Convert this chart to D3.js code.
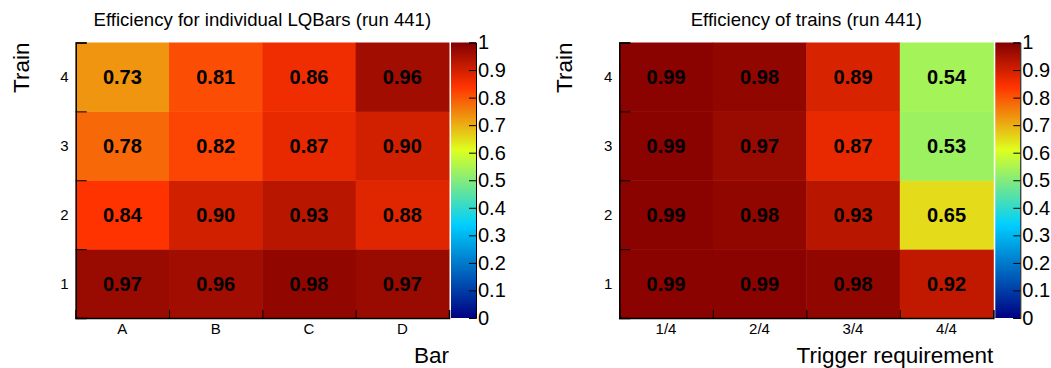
<!DOCTYPE html>
<html>
<head>
<meta charset="utf-8">
<script src="https://cdn.jsdelivr.net/npm/d3@7"></script>
<style>
  body { margin: 0; background: #fff; }
  text { font-family: "Liberation Sans", Arial, sans-serif; fill: #000; }
</style>
</head>
<body>
<div id="chart"></div>
<script>
const width = 1051;
const height = 368;

// data
const trains = ["1", "2", "3", "4"];
const bars = ["A", "B", "C", "D"];
const triggers = ["1/4", "2/4", "3/4", "4/4"];

// rows are train 1..4, columns follow the x categories
const barEff = [
  [0.97, 0.96, 0.98, 0.97],
  [0.84, 0.90, 0.93, 0.88],
  [0.78, 0.82, 0.87, 0.90],
  [0.73, 0.81, 0.86, 0.96]
];
const trainEff = [
  [0.99, 0.99, 0.98, 0.92],
  [0.99, 0.98, 0.93, 0.65],
  [0.99, 0.97, 0.87, 0.53],
  [0.99, 0.98, 0.89, 0.54]
];
const zTicks = [0, 0.1, 0.2, 0.3, 0.4, 0.5, 0.6, 0.7, 0.8, 0.9, 1];

// ROOT rainbow palette
const paletteStops = [0, 0.34, 0.61, 0.84, 1];
const paletteColors = ["rgb(0,0,130)", "rgb(0,207,255)", "rgb(222,255,31)", "rgb(255,51,0)", "rgb(130,0,0)"];
const color = d3.scaleLinear().domain(paletteStops).range(paletteColors).clamp(true);

const svg = d3.select("#chart")
  .append("svg")
  .attr("width", width)
  .attr("height", height);

const defs = svg.append("defs");
const grad = defs.append("linearGradient")
  .attr("id", "pal")
  .attr("x1", 0).attr("y1", 1).attr("x2", 0).attr("y2", 0);
grad.selectAll("stop")
  .data(paletteStops)
  .enter()
  .append("stop")
  .attr("offset", d => d)
  .attr("stop-color", d => color(d));

function drawPanel(opts) {
  const { x0, x1, y0, y1, cats, values, title, xTitle } = opts;

  const x = d3.scaleBand().domain(cats).range([x0, x1]);
  const y = d3.scaleBand().domain(trains).range([y1, y0]);
  const g = svg.append("g");

  const cells = [];
  values.forEach((row, i) => row.forEach((v, j) => cells.push({ train: trains[i], cat: cats[j], v })));

  g.selectAll("rect.cell")
    .data(cells)
    .enter()
    .append("rect")
    .attr("class", "cell")
    .attr("x", d => x(d.cat))
    .attr("y", d => y(d.train))
    .attr("width", x.bandwidth() + 0.5)
    .attr("height", y.bandwidth() + 0.5)
    .attr("fill", d => color(d.v));

  g.selectAll("text.val")
    .data(cells)
    .enter()
    .append("text")
    .attr("class", "val")
    .attr("x", d => x(d.cat) + x.bandwidth() / 2)
    .attr("y", d => y(d.train) + y.bandwidth() / 2)
    .attr("dy", "0.36em")
    .attr("text-anchor", "middle")
    .style("font-size", "20px")
    .style("font-weight", "bold")
    .text(d => d.v.toFixed(2));

  // ticks at bin edges
  const edgeX = d3.scaleLinear().domain([0, cats.length]).range([x0, x1]);
  const edgeY = d3.scaleLinear().domain([0, trains.length]).range([y1, y0]);

  g.append("g")
    .attr("transform", `translate(0,${y1})`)
    .call(d3.axisBottom(edgeX).ticks(4).tickSize(-8).tickFormat(""))
    .call(a => a.select(".domain").attr("stroke-width", 1.5))
    .call(a => a.selectAll(".tick line").attr("stroke-width", 1));

  g.append("g")
    .attr("transform", `translate(${x0},0)`)
    .call(d3.axisLeft(edgeY).ticks(4).tickSize(-11).tickFormat(""))
    .call(a => a.select(".domain").attr("stroke-width", 1.5))
    .call(a => a.selectAll(".tick line").attr("stroke-width", 1));

  // category labels
  g.selectAll("text.xlab")
    .data(cats)
    .enter()
    .append("text")
    .attr("class", "xlab")
    .attr("x", d => x(d) + x.bandwidth() / 2)
    .attr("y", y1 + 16)
    .attr("text-anchor", "middle")
    .style("font-size", "15px")
    .text(d => d);

  g.selectAll("text.ylab")
    .data(trains)
    .enter()
    .append("text")
    .attr("class", "ylab")
    .attr("x", x0 - 7)
    .attr("y", d => y(d) + y.bandwidth() / 2)
    .attr("dy", "0.36em")
    .attr("text-anchor", "end")
    .style("font-size", "15px")
    .text(d => d);

  // titles
  g.append("text")
    .attr("x", (x0 + x1) / 2)
    .attr("y", 26)
    .attr("text-anchor", "middle")
    .style("font-size", "18.6px")
    .text(title);

  g.append("text")
    .attr("x", x1)
    .attr("y", 362.5)
    .attr("text-anchor", "end")
    .style("font-size", "22.5px")
    .text(xTitle);

  g.append("text")
    .attr("transform", `translate(${x0 - 47},${y0}) rotate(-90)`)
    .attr("text-anchor", "end")
    .style("font-size", "22.5px")
    .text("Train");

  // colour bar
  const cbX = x1 + 2;
  const cbW = 25;
  const z = d3.scaleLinear().domain([0, 1]).range([y1, y0]);

  g.append("rect")
    .attr("x", cbX)
    .attr("y", y0)
    .attr("width", cbW)
    .attr("height", y1 - y0)
    .attr("fill", "url(#pal)");

  g.append("g")
    .attr("transform", `translate(${cbX + cbW},0)`)
    .call(d3.axisRight(z).tickValues(zTicks).tickSize(-7).tickPadding(2)
      .tickFormat(d => d === 0 || d === 1 ? d3.format("d")(d) : d3.format(".1f")(d)))
    .call(a => a.select(".domain").attr("stroke-width", 1))
    .call(a => a.selectAll(".tick text").style("font-size", "20px").attr("fill", "#000"));
}

drawPanel({
  x0: 75.7, x1: 449, y0: 42.5, y1: 318,
  cats: bars, values: barEff,
  title: "Efficiency for individual LQBars (run 441)",
  xTitle: "Bar"
});

drawPanel({
  x0: 619.3, x1: 993.3, y0: 42.5, y1: 318,
  cats: triggers, values: trainEff,
  title: "Efficiency of trains (run 441)",
  xTitle: "Trigger requirement"
});
</script>
</body>
</html>
